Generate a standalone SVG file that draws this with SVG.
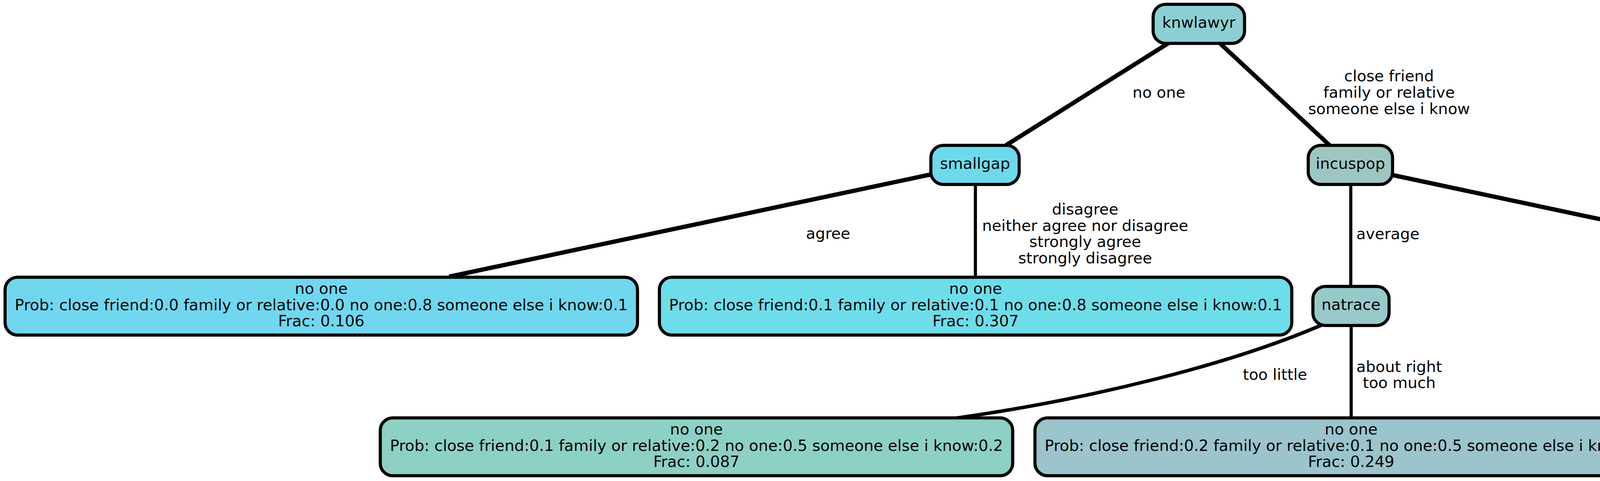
<svg xmlns="http://www.w3.org/2000/svg" width="7631" height="1231" viewBox="0 0 7631 1231">
<style>
  .bg { fill: #ffffff; }
  .node rect { stroke: #000000; stroke-width: 8; }
  .node text, .elabel text { font-family: "DejaVu Sans", "Liberation Sans", sans-serif; font-size: 39.5px; fill: #000000; text-anchor: middle; }
  .edge { stroke: #000000; fill: none; stroke-linecap: butt; }
  .thick { stroke-width: 11; }
  .thin { stroke-width: 8; }
  .curve { stroke-width: 9; }
</style>
<rect class="bg" x="0" y="0" width="7631" height="1231"/>
<g id="connectors">
  <line class="edge thick" x1="2995" y1="108" x2="2575" y2="372"/>
  <line class="edge thick" x1="3120" y1="108" x2="3404" y2="372"/>
  <line class="edge thick" x1="2385" y1="446" x2="1150" y2="708"/>
  <line class="edge thin" x1="2497" y1="470" x2="2497" y2="712"/>
  <line class="edge thin" x1="3458" y1="470" x2="3458" y2="735"/>
  <line class="edge thick" x1="3565" y1="448" x2="5064" y2="767"/>
  <path class="edge curve" d="M3390,829 C3153,932 2794,1021 2448,1070"/>
  <line class="edge thin" x1="3459" y1="832" x2="3459" y2="1072"/>
  <line class="edge thin" x1="5133" y1="832" x2="5133" y2="1072"/>
  <line class="edge thick" x1="5205" y1="800" x2="6475" y2="1068"/>
  <g class="elabel">
    <text x="2967" y="250">no one</text>
    <text x="3556" y="208">close friend</text>
    <text x="3556" y="250">family or relative</text>
    <text x="3556" y="292">someone else i know</text>
    <text x="2120" y="611">agree</text>
    <text x="2778" y="549">disagree</text>
    <text x="2778" y="591">neither agree nor disagree</text>
    <text x="2778" y="632">strongly agree</text>
    <text x="2778" y="674">strongly disagree</text>
    <text x="3553" y="612">average</text>
    <text x="4900" y="591">higher than average</text>
    <text x="4900" y="632">lower than average</text>
    <text x="3264" y="972">too little</text>
    <text x="3582" y="952">about right</text>
    <text x="3582" y="993">too much</text>
    <text x="5270" y="972">middle class</text>
    <text x="6410" y="931">lower class</text>
    <text x="6410" y="972">upper class</text>
    <text x="6410" y="1014">working class</text>
  </g>
</g>
<g id="knwlawyr" class="node">
  <rect x="2952" y="11" width="234" height="100" rx="32" ry="32" fill="#8BCFD4"/>
  <text x="3069" y="71">knwlawyr</text>
</g>
<g id="smallgap" class="node">
  <rect x="2383" y="372" width="226" height="100" rx="32" ry="32" fill="#6DDAEB"/>
  <text x="2496" y="432">smallgap</text>
</g>
<g id="incuspop" class="node">
  <rect x="3349" y="372" width="216" height="100" rx="32" ry="32" fill="#9DC6C1"/>
  <text x="3457" y="432">incuspop</text>
</g>
<g id="natrace" class="node">
  <rect x="3361" y="733" width="195" height="100" rx="32" ry="32" fill="#98C9CA"/>
  <text x="3458.5" y="793">natrace</text>
</g>
<g id="class" class="node">
  <rect x="5062" y="733" width="142" height="100" rx="32" ry="32" fill="#A6C7B8"/>
  <text x="5133" y="793">class</text>
</g>
<g id="leaf_smallgap_agree" class="node">
  <rect x="13" y="709.5" width="1619" height="148" rx="32" ry="32" fill="#70D7EF"/>
  <text x="822.5" y="751.5">no one</text>
  <text x="822.5" y="793.5">Prob: close friend:0.0 family or relative:0.0 no one:0.8 someone else i know:0.1</text>
  <text x="822.5" y="834.5">Frac: 0.106</text>
</g>
<g id="leaf_smallgap_other" class="node">
  <rect x="1688" y="709.5" width="1619" height="148" rx="32" ry="32" fill="#6DDDEA"/>
  <text x="2497.5" y="751.5">no one</text>
  <text x="2497.5" y="793.5">Prob: close friend:0.1 family or relative:0.1 no one:0.8 someone else i know:0.1</text>
  <text x="2497.5" y="834.5">Frac: 0.307</text>
</g>
<g id="leaf_natrace_toolittle" class="node">
  <rect x="973.5" y="1069.5" width="1619" height="148" rx="32" ry="32" fill="#8DD0C4"/>
  <text x="1783" y="1111.5">no one</text>
  <text x="1783" y="1153.5">Prob: close friend:0.1 family or relative:0.2 no one:0.5 someone else i know:0.2</text>
  <text x="1783" y="1194.5">Frac: 0.087</text>
</g>
<g id="leaf_natrace_other" class="node">
  <rect x="2649.5" y="1069.5" width="1619" height="148" rx="32" ry="32" fill="#9BC4CC"/>
  <text x="3459" y="1111.5">no one</text>
  <text x="3459" y="1153.5">Prob: close friend:0.2 family or relative:0.1 no one:0.5 someone else i know:0.2</text>
  <text x="3459" y="1194.5">Frac: 0.249</text>
</g>
<g id="leaf_class_middle" class="node">
  <rect x="4323.5" y="1069.5" width="1619" height="148" rx="32" ry="32" fill="#AEC2AA"/>
  <text x="5133" y="1111.5">no one</text>
  <text x="5133" y="1153.5">Prob: close friend:0.3 family or relative:0.2 no one:0.3 someone else i know:0.2</text>
  <text x="5133" y="1194.5">Frac: 0.123</text>
</g>
<g id="leaf_class_other" class="node">
  <rect x="6000" y="1069.5" width="1619" height="148" rx="32" ry="32" fill="#9BCBC1"/>
  <text x="6809.5" y="1111.5">no one</text>
  <text x="6809.5" y="1153.5">Prob: close friend:0.2 family or relative:0.1 no one:0.5 someone else i know:0.2</text>
  <text x="6809.5" y="1194.5">Frac: 0.129</text>
</g>
</svg>
